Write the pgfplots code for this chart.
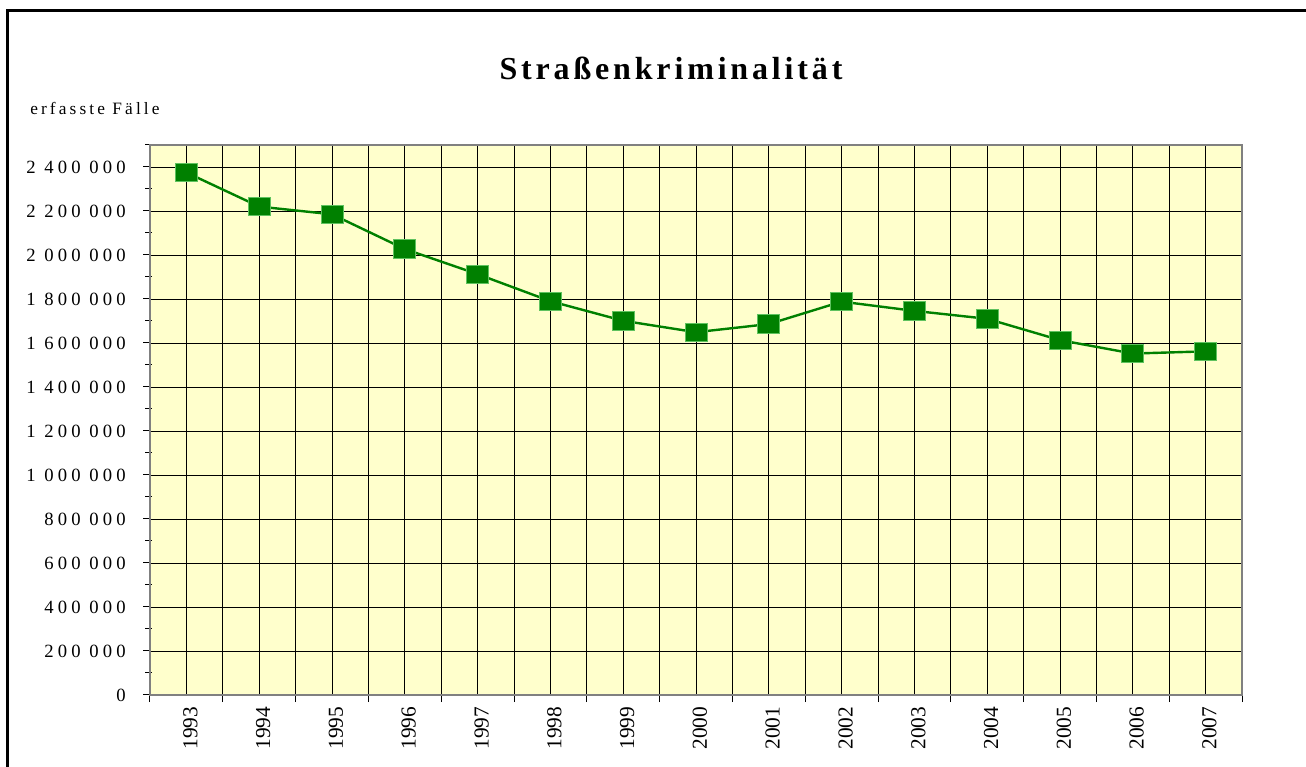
\documentclass[border=0pt]{standalone}
\usepackage{fontspec}
\setmainfont{Liberation Serif}
\newfontfamily\titlefont{Liberation Serif}[LetterSpace=12]
\newfontfamily\spacedfont{Liberation Serif}[LetterSpace=22]
\newfontfamily\labelfont{Liberation Serif}[LetterSpace=18]
\usepackage{pgfplots}
\pgfplotsset{compat=1.18}
\definecolor{plotbg}{HTML}{FFFFCC}
\definecolor{linegreen}{HTML}{008000}
\definecolor{edgegreen}{HTML}{5FC25F}
\definecolor{axisgray}{HTML}{808080}

\pgfplotstableread{
year value
1993 2375000
1994 2220000
1995 2185000
1996 2027000
1997 1913000
1998 1790000
1999 1701000
2000 1649000
2001 1686000
2002 1788000
2003 1746000
2004 1710000
2005 1613000
2006 1552000
2007 1562000
}\datatable

\begin{document}
\begin{tikzpicture}
\useasboundingbox (-112.5pt,-54pt) rectangle (867pt,521.25pt);
\draw[line width=2.25pt] (-106.5pt,-70pt) -- (-106.5pt,513pt) -- (900pt,513pt);
\begin{axis}[
  at={(0pt,0pt)}, anchor=south west,
  scale only axis, width=819pt, height=412.5pt,
  xmin=1992.5, xmax=2007.5, ymin=0, ymax=2500000,
  axis background/.style={fill=plotbg},
  scaled y ticks=false,
  xtick pos=bottom, ytick pos=left,
  xtick={1993,1994,...,2007},
  xticklabels={1993,1994,1995,1996,1997,1998,1999,2000,2001,2002,2003,2004,2005,2006,2007},
  minor xtick={1992.5,1993.5,...,2007.5},
  ytick={0,200000,...,2400000},
  yticklabels={0,200 000,400 000,600 000,800 000,1 000 000,1 200 000,1 400 000,1 600 000,1 800 000,2 000 000,2 200 000,2 400 000},
  minor ytick={100000,300000,...,2500000},
  xmajorgrids, xminorgrids, ymajorgrids,
  major grid style={black, line width=0.6pt},
  minor grid style={black, line width=0.6pt},
  tick align=outside,
  major tick length=5.25pt, minor tick length=5.25pt,
  tick style={black, line width=0.75pt},
  major x tick style={draw=none},
  minor y tick style={xshift=1.5pt},
  axis line style={draw=axisgray, line width=1.5pt},
  yticklabel style={font=\spacedfont\fontsize{14}{14}\selectfont, xshift=-9.5pt},
  xticklabel style={rotate=90, anchor=east, font=\fontsize{16}{16}\selectfont, yshift=-3pt},
  clip=false,
]
\addplot[linegreen, line width=1.8pt, mark=square*, mark size=6.9pt,
  mark options={solid, fill=linegreen, draw=edgegreen, line width=0.6pt, xscale=1.2}]
  table[x=year, y=value]{\datatable};
\end{axis}
\node[anchor=center, font=\titlefont\bfseries\fontsize{24}{24}\selectfont] at (390.75pt,470.25pt) {Straßenkriminalität};
\node[anchor=west, inner sep=0pt, font=\labelfont\fontsize{13}{13}\selectfont] at (-90pt,440.25pt) {erfasste Fälle};
\end{tikzpicture}
\end{document}
